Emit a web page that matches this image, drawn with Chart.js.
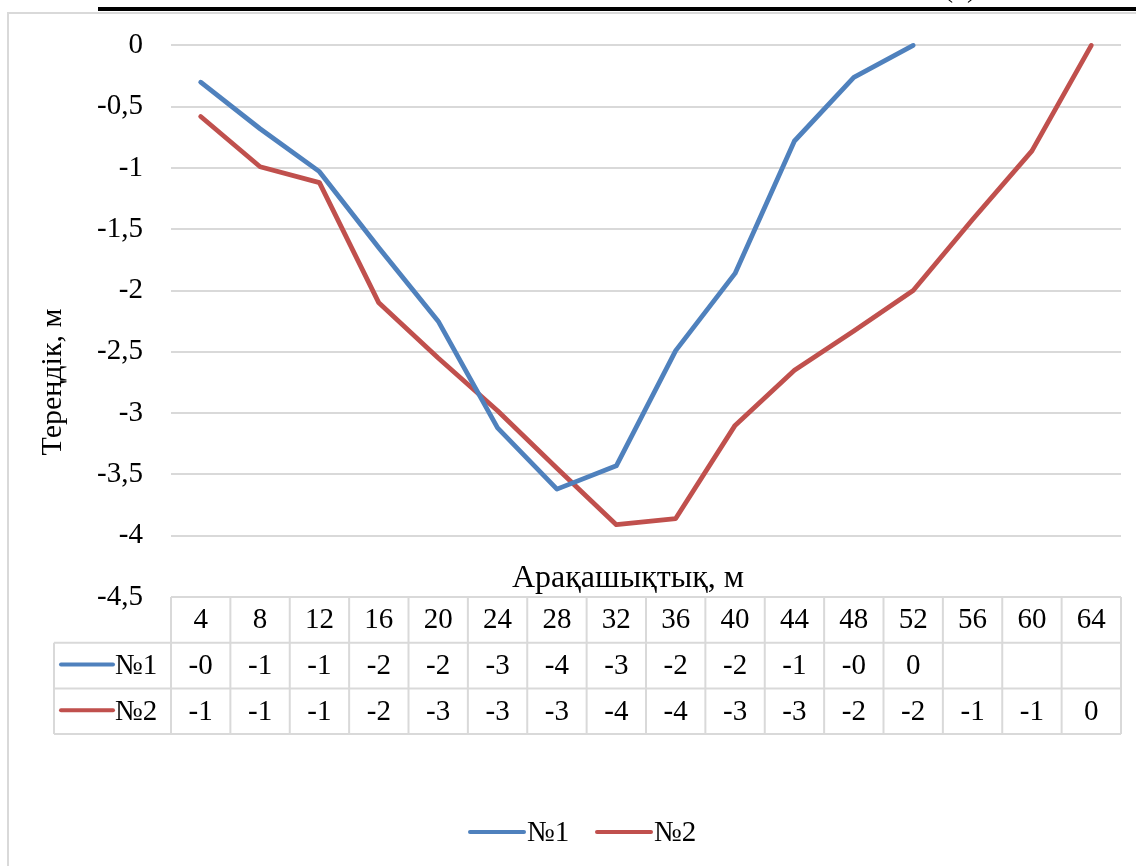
<!DOCTYPE html>
<html>
<head>
<meta charset="utf-8">
<script src="https://cdn.jsdelivr.net/npm/chart.js@4.4.1/dist/chart.umd.min.js"></script>
<style>
html,body{margin:0;padding:0;background:#fff;}
canvas{display:block;}
</style>
</head>
<body>
<canvas id="c" width="1136" height="866"></canvas>
<script>
const categories = ['4','8','12','16','20','24','28','32','36','40','44','48','52','56','60','64'];
const series1Name = '№1';
const series2Name = '№2';
const series1 = [-0.30, -0.68, -1.03, -1.65, -2.25, -3.12, -3.62, -3.43, -2.49, -1.86, -0.78, -0.26, 0, null, null, null];
const series2 = [-0.58, -0.99, -1.12, -2.10, -2.55, -2.98, -3.45, -3.91, -3.86, -3.10, -2.65, -2.33, -2.00, -1.42, -0.86, 0];
const yMin = -4.5, yMax = 0, yStep = 0.5;
const xTitle = 'Арақашықтық, м';
const yTitle = 'Тереңдік, м';

const BLUE = '#4F81BD', RED = '#C0504D', GRID = '#d9d9d9';
const FONT = '"Liberation Serif", "DejaVu Serif", serif';
const FS = 29;

function fmtRounded(v){
  if (v === null || v === undefined) return '';
  if (v < 0) return '-' + Math.round(Math.abs(v));
  return String(Math.round(v));
}

const decor = {
  id: 'decor',
  beforeDraw(chart){
    const ctx = chart.ctx;
    ctx.save();
    ctx.fillStyle = '#fff';
    ctx.fillRect(0,0,chart.width,chart.height);
    ctx.fillStyle = '#000';
    ctx.fillRect(98, 7, chart.width - 98, 4);
    ctx.font = '28px ' + FONT;
    ctx.textAlign = 'center';
    ctx.textBaseline = 'alphabetic';
    ctx.fillText('(1)', 960, -3);
    ctx.strokeStyle = GRID;
    ctx.lineWidth = 2;
    ctx.beginPath();
    ctx.moveTo(8, chart.height);
    ctx.lineTo(8, 13);
    ctx.lineTo(chart.width, 13);
    ctx.stroke();
    ctx.restore();
  },
  afterDraw(chart){
    const ctx = chart.ctx;
    const area = chart.chartArea;
    const xs = chart.scales.x;
    const n = categories.length;
    const w = xs.getPixelForValue(1) - xs.getPixelForValue(0);
    const top = area.bottom;
    const rowH = 45.7;
    const r1 = top + rowH, r2 = top + 2*rowH, r3 = top + 3*rowH;
    const leftCol = 54;
    ctx.save();
    ctx.strokeStyle = GRID;
    ctx.lineWidth = 2;
    ctx.beginPath();
    ctx.moveTo(area.left, top); ctx.lineTo(area.right, top);
    [r1, r2, r3].forEach(y => { ctx.moveTo(leftCol, y); ctx.lineTo(area.right, y); });
    ctx.moveTo(leftCol, r1); ctx.lineTo(leftCol, r3);
    for (let k = 0; k <= n; k++){
      const x = xs.getPixelForValue(0) - w/2 + k*w;
      ctx.moveTo(x, top); ctx.lineTo(x, r3);
    }
    ctx.stroke();
    ctx.fillStyle = '#000';
    ctx.font = FS + 'px ' + FONT;
    ctx.textAlign = 'center';
    ctx.textBaseline = 'middle';
    for (let i = 0; i < n; i++){
      const cx = xs.getPixelForValue(i);
      ctx.fillText(categories[i], cx, (top + r1)/2 + 1);
      ctx.fillText(fmtRounded(series1[i]), cx, (r1 + r2)/2 + 1);
      ctx.fillText(fmtRounded(series2[i]), cx, (r2 + r3)/2 + 1);
    }
    const keys = [[series1Name, BLUE, (r1+r2)/2], [series2Name, RED, (r2+r3)/2]];
    ctx.lineCap = 'round';
    ctx.lineWidth = 4;
    keys.forEach(([name, col, y]) => {
      ctx.strokeStyle = col;
      ctx.beginPath(); ctx.moveTo(61, y - 1); ctx.lineTo(113, y - 1); ctx.stroke();
      ctx.textAlign = 'left';
      ctx.fillText(name, 115, y + 1);
    });
    ctx.textAlign = 'center';
    ctx.font = '32px ' + FONT;
    ctx.fillText(xTitle, 628, 579);
    ctx.save();
    ctx.font = '30px ' + FONT;
    ctx.translate(53, 382);
    ctx.rotate(-Math.PI/2);
    ctx.fillText(yTitle, 0, 0);
    ctx.restore();
    ctx.font = FS + 'px ' + FONT;
    const ly = 832;
    const items = [[series1Name, BLUE, 470], [series2Name, RED, 597]];
    items.forEach(([name, col, x]) => {
      ctx.strokeStyle = col;
      ctx.beginPath(); ctx.moveTo(x, ly); ctx.lineTo(x + 54, ly); ctx.stroke();
      ctx.textAlign = 'left';
      ctx.fillText(name, x + 57, ly + 1);
    });
    ctx.restore();
  }
};

new Chart(document.getElementById('c'), {
  type: 'line',
  data: {
    labels: categories,
    datasets: [
      { label: series1Name, data: series1, borderColor: BLUE, backgroundColor: BLUE, borderWidth: 4.8, pointRadius: 0, tension: 0, borderCapStyle: 'round', borderJoinStyle: 'round', clip: false },
      { label: series2Name, data: series2, borderColor: RED, backgroundColor: RED, borderWidth: 4.8, pointRadius: 0, tension: 0, borderCapStyle: 'round', borderJoinStyle: 'round', clip: false }
    ]
  },
  options: {
    responsive: false,
    animation: false,
    devicePixelRatio: 1,
    layout: { padding: { left: 0, right: 15, top: 41, bottom: 269 } },
    plugins: { legend: { display: false }, tooltip: { enabled: false } },
    scales: {
      x: { type: 'category', display: false, offset: true },
      y: {
        min: yMin, max: yMax,
        afterFit(scale){ scale.width = 171; },
        ticks: {
          stepSize: yStep,
          padding: 28,
          color: '#000',
          font: { family: FONT, size: FS },
          callback: v => String(v).replace('.', ',')
        },
        grid: { color: GRID, lineWidth: 2, drawTicks: false },
        border: { display: false }
      }
    }
  },
  plugins: [decor]
});
</script>
</body>
</html>
